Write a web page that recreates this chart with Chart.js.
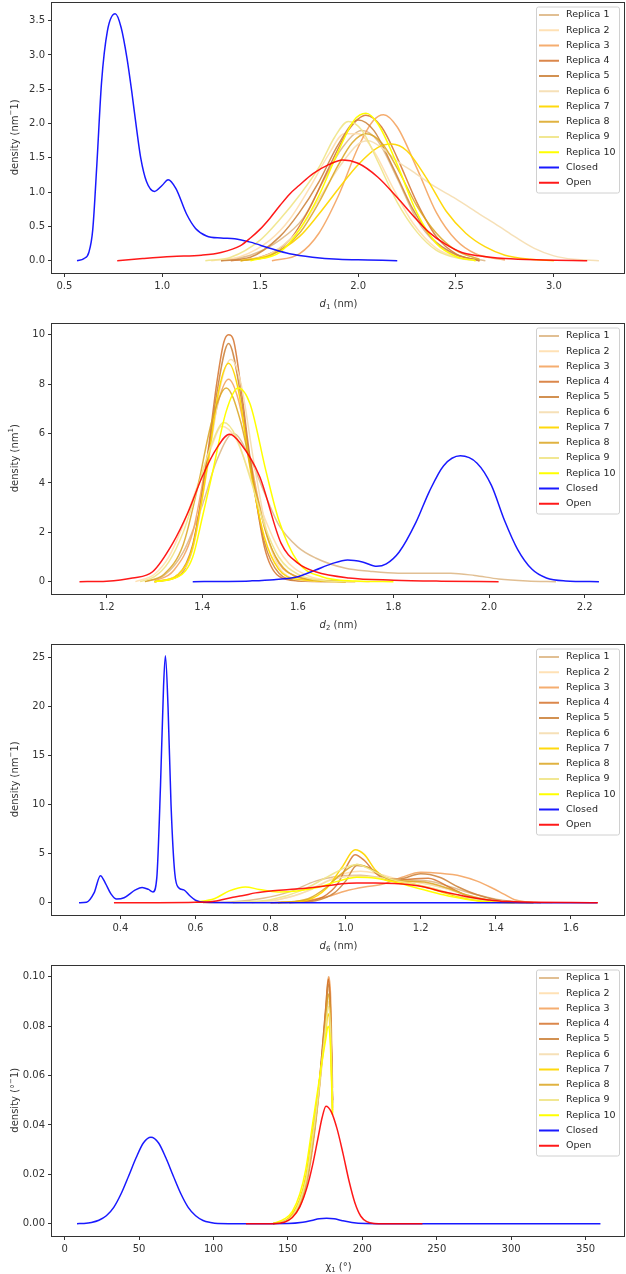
<!DOCTYPE html>
<html>
<head>
<meta charset="utf-8">
<script src="https://cdn.jsdelivr.net/npm/chart.js@4.4.1/dist/chart.umd.min.js"></script>
<style>
  body { margin: 0; background: #fff; width: 626px; height: 1274px; overflow: hidden; position: relative; }
  .panel { position: absolute; left: 0; width: 626px; height: 321px; }
</style>
</head>
<body>
<div class="panel" style="top:0px"><canvas id="d1" width="626" height="321"></canvas></div>
<div class="panel" style="top:321px"><canvas id="d2" width="626" height="321"></canvas></div>
<div class="panel" style="top:642px"><canvas id="d6" width="626" height="321"></canvas></div>
<div class="panel" style="top:963px"><canvas id="chi1" width="626" height="321"></canvas></div>
<script>
const seriesLabels = ['Replica 1', 'Replica 2', 'Replica 3', 'Replica 4', 'Replica 5',
  'Replica 6', 'Replica 7', 'Replica 8', 'Replica 9', 'Replica 10', 'Closed', 'Open'];

// ---- d1 (nm) ----
const d1R1 = [[1.3,0],[1.45,0.08],[1.6,0.3],[1.72,0.62],[1.82,1.15],[1.92,1.65],[2.02,1.9],[2.1,1.75],[2.2,1.2],[2.3,0.6],[2.4,0.25],[2.5,0.08],[2.65,0]];
const d1R2 = [[1.25,0],[1.4,0.06],[1.55,0.3],[1.65,0.6],[1.75,1.05],[1.85,1.55],[1.93,1.85],[2.0,1.85],[2.08,1.6],[2.18,1.05],[2.28,0.55],[2.4,0.18],[2.52,0.04],[2.62,0]];
const d1R3 = [[1.56,0],[1.7,0.1],[1.8,0.4],[1.9,0.95],[2.0,1.65],[2.08,2.05],[2.13,2.13],[2.2,1.95],[2.3,1.35],[2.4,0.7],[2.5,0.3],[2.6,0.1],[2.75,0.01]];
const d1R4 = [[1.35,0],[1.5,0.05],[1.65,0.3],[1.75,0.75],[1.85,1.35],[1.95,1.9],[2.04,2.12],[2.12,1.95],[2.2,1.5],[2.3,0.85],[2.4,0.35],[2.5,0.1],[2.62,0]];
const d1R5 = [[1.3,0],[1.45,0.05],[1.6,0.35],[1.7,0.7],[1.8,1.15],[1.9,1.7],[2.0,2.05],[2.08,1.9],[2.18,1.35],[2.28,0.75],[2.38,0.32],[2.5,0.09],[2.62,0]];
const d1R6 = [[1.4,0],[1.55,0.1],[1.7,0.45],[1.8,0.9],[1.9,1.35],[2.0,1.7],[2.05,1.75],[2.12,1.65],[2.2,1.45],[2.28,1.3],[2.38,1.1],[2.5,0.9],[2.62,0.68],[2.72,0.5],[2.8,0.35],[2.9,0.18],[3.0,0.07],[3.1,0.02],[3.23,0]];
const d1R7 = [[1.4,0],[1.55,0.08],[1.7,0.35],[1.8,0.68],[1.9,1.05],[2.0,1.4],[2.1,1.65],[2.17,1.7],[2.25,1.6],[2.35,1.2],[2.45,0.72],[2.55,0.4],[2.65,0.2],[2.75,0.08],[2.88,0.02],[3.0,0]];
const d1R8 = [[1.4,0],[1.55,0.07],[1.7,0.4],[1.8,0.85],[1.9,1.4],[1.97,1.72],[2.04,1.85],[2.12,1.72],[2.2,1.35],[2.3,0.8],[2.4,0.4],[2.5,0.15],[2.62,0.02]];
const d1R9 = [[1.22,0],[1.35,0.05],[1.5,0.3],[1.6,0.6],[1.7,0.95],[1.8,1.36],[1.88,1.8],[1.95,2.03],[2.02,1.9],[2.1,1.45],[2.2,0.85],[2.3,0.42],[2.4,0.15],[2.52,0.03],[2.6,0]];
const d1R10 = [[1.45,0],[1.6,0.12],[1.7,0.45],[1.8,0.95],[1.9,1.6],[1.98,2.05],[2.04,2.15],[2.1,2.0],[2.2,1.4],[2.3,0.7],[2.4,0.25],[2.5,0.06],[2.6,0]];
const d1Closed = [[0.565,0],[0.6,0.03],[0.625,0.12],[0.645,0.45],[0.666,1.4],[0.69,2.6],[0.72,3.35],[0.76,3.6],[0.79,3.4],[0.82,2.95],[0.845,2.45],[0.87,1.9],[0.89,1.5],[0.92,1.15],[0.96,1.01],[1.0,1.1],[1.03,1.18],[1.07,1.05],[1.124,0.68],[1.17,0.47],[1.226,0.36],[1.3,0.33],[1.37,0.32],[1.45,0.27],[1.55,0.18],[1.65,0.1],[1.767,0.05],[1.9,0.02],[2.05,0.01],[2.2,0]];
const d1Open = [[0.77,0],[0.9,0.03],[1.05,0.06],[1.2,0.08],[1.3,0.12],[1.4,0.22],[1.45,0.33],[1.5,0.46],[1.55,0.62],[1.6,0.8],[1.65,0.97],[1.7,1.1],[1.77,1.27],[1.85,1.4],[1.92,1.47],[2.0,1.42],[2.1,1.22],[2.2,0.92],[2.28,0.66],[2.36,0.42],[2.446,0.24],[2.53,0.12],[2.615,0.07],[2.75,0.03],[2.95,0.01],[3.17,0]];

// ---- d2 (nm) ----
const d2R1 = [[1.28,0],[1.32,0.25],[1.36,1.2],[1.4,3.1],[1.43,4.9],[1.465,6.0],[1.5,5.0],[1.53,3.6],[1.56,2.3],[1.6,1.4],[1.637,0.96],[1.7,0.54],[1.75,0.42],[1.81,0.34],[1.92,0.34],[1.97,0.25],[2.02,0.11],[2.08,0.03],[2.14,0]];
const d2R2 = [[1.26,0],[1.3,0.3],[1.33,1.0],[1.36,2.3],[1.39,3.9],[1.42,5.5],[1.44,6.3],[1.47,5.8],[1.5,4.3],[1.53,2.6],[1.57,1.0],[1.62,0.25],[1.68,0.03],[1.75,0]];
const d2R3 = [[1.3,0.02],[1.34,0.45],[1.38,2.0],[1.41,5.0],[1.435,7.4],[1.455,8.2],[1.475,7.4],[1.5,5.0],[1.53,2.2],[1.56,0.75],[1.6,0.2],[1.65,0.05],[1.72,0]];
const d2R4 = [[1.3,0],[1.35,0.22],[1.38,1.4],[1.41,5.0],[1.43,8.0],[1.445,9.7],[1.455,10.0],[1.465,9.8],[1.48,8.0],[1.5,5.0],[1.53,1.4],[1.56,0.22],[1.6,0.03],[1.7,0]];
const d2R5 = [[1.3,0],[1.35,0.3],[1.38,1.5],[1.41,4.8],[1.43,7.6],[1.455,9.65],[1.48,7.6],[1.5,4.8],[1.53,1.6],[1.56,0.35],[1.6,0.05],[1.7,0]];
const d2R6 = [[1.3,0],[1.35,0.3],[1.38,1.3],[1.41,4.5],[1.44,8.1],[1.46,9.0],[1.48,8.1],[1.51,4.6],[1.54,1.6],[1.57,0.35],[1.62,0.04],[1.7,0]];
const d2R7 = [[1.3,0],[1.35,0.3],[1.38,1.4],[1.41,4.6],[1.435,7.8],[1.455,8.85],[1.475,7.8],[1.5,4.6],[1.53,1.8],[1.56,0.5],[1.6,0.1],[1.7,0]];
const d2R8 = [[1.28,0],[1.32,0.3],[1.36,1.5],[1.39,3.8],[1.42,6.5],[1.45,7.85],[1.48,6.5],[1.51,3.8],[1.54,1.6],[1.57,0.55],[1.62,0.1],[1.7,0]];
const d2R9 = [[1.27,0],[1.3,0.2],[1.33,0.8],[1.36,2.0],[1.39,3.8],[1.42,5.6],[1.445,6.45],[1.47,5.9],[1.5,4.2],[1.53,2.3],[1.56,1.0],[1.6,0.3],[1.65,0.05],[1.72,0]];
const d2R10 = [[1.3,0],[1.35,0.2],[1.38,1.0],[1.4,2.6],[1.42,4.3],[1.45,6.9],[1.475,7.85],[1.5,7.2],[1.533,4.5],[1.56,2.5],[1.6,0.8],[1.65,0.2],[1.72,0.03],[1.8,0]];
const d2Closed = [[1.38,0],[1.45,0.01],[1.5,0.03],[1.55,0.08],[1.6,0.2],[1.637,0.47],[1.67,0.72],[1.704,0.88],[1.735,0.8],[1.765,0.62],[1.785,0.72],[1.812,1.2],[1.847,2.4],[1.875,3.65],[1.905,4.7],[1.94,5.1],[1.975,4.8],[2.005,3.9],[2.032,2.5],[2.06,1.3],[2.09,0.5],[2.12,0.15],[2.16,0.03],[2.23,0]];
const d2Open = [[1.143,0],[1.2,0.02],[1.254,0.15],[1.296,0.4],[1.338,1.55],[1.37,2.8],[1.4,4.26],[1.43,5.4],[1.457,5.97],[1.48,5.6],[1.52,4.26],[1.565,1.55],[1.6,0.75],[1.637,0.4],[1.707,0.15],[1.8,0.06],[1.9,0.02],[2.02,0]];

// ---- d6 (nm) ----
const d6R1 = [[0.62,0],[0.7,0.1],[0.78,0.45],[0.85,1.1],[0.92,2.2],[0.98,2.7],[1.04,2.8],[1.1,2.5],[1.16,2.3],[1.22,2.2],[1.28,1.6],[1.34,0.9],[1.4,0.35],[1.46,0.08],[1.52,0]];
const d6R2 = [[0.7,0],[0.8,0.2],[0.88,0.9],[0.95,2.2],[1.0,3.0],[1.04,3.2],[1.09,2.9],[1.15,2.3],[1.22,1.9],[1.28,1.3],[1.34,0.6],[1.4,0.2],[1.48,0.02],[1.55,0]];
const d6R3 = [[0.8,0],[0.88,0.15],[0.95,0.6],[1.0,1.2],[1.05,1.6],[1.1,1.9],[1.15,2.6],[1.2,3.1],[1.25,3.0],[1.308,2.7],[1.35,2.2],[1.39,1.5],[1.42,0.9],[1.45,0.3],[1.48,0.08],[1.52,0]];
const d6R4 = [[0.8,0],[0.88,0.1],[0.94,0.6],[0.98,2.0],[1.0,3.5],[1.025,4.9],[1.05,4.3],[1.08,3.0],[1.12,2.2],[1.17,2.4],[1.22,2.5],[1.28,1.5],[1.33,0.6],[1.38,0.2],[1.45,0.02],[1.5,0]];
const d6R5 = [[0.85,0],[0.92,0.2],[0.97,1.0],[1.0,2.2],[1.03,3.8],[1.06,3.6],[1.1,2.6],[1.14,2.4],[1.2,2.95],[1.25,2.6],[1.3,1.6],[1.35,0.8],[1.4,0.3],[1.46,0.05],[1.5,0]];
const d6R6 = [[0.75,0],[0.82,0.3],[0.9,1.2],[0.96,2.3],[1.02,2.7],[1.08,2.6],[1.14,2.3],[1.2,2.0],[1.26,1.5],[1.32,0.8],[1.38,0.3],[1.45,0.05],[1.5,0]];
const d6R7 = [[0.82,0],[0.9,0.3],[0.95,1.5],[0.99,3.6],[1.025,5.4],[1.05,4.9],[1.08,3.3],[1.12,2.3],[1.17,2.0],[1.22,1.5],[1.28,0.8],[1.33,0.35],[1.38,0.1],[1.45,0]];
const d6R8 = [[0.82,0],[0.9,0.4],[0.95,1.6],[0.99,3.0],[1.03,3.9],[1.07,3.4],[1.11,2.5],[1.16,2.2],[1.21,2.1],[1.27,1.5],[1.32,0.8],[1.38,0.25],[1.45,0.03],[1.5,0]];
const d6R9 = [[0.7,0],[0.8,0.3],[0.88,1.2],[0.95,2.6],[1.0,3.6],[1.03,3.9],[1.07,3.3],[1.12,2.4],[1.18,1.9],[1.24,1.4],[1.3,0.7],[1.36,0.25],[1.42,0.04],[1.48,0]];
const d6R10 = [[0.6,0.05],[0.65,0.4],[0.69,1.2],[0.733,1.6],[0.77,1.35],[0.82,1.1],[0.87,1.2],[0.93,1.6],[0.98,2.2],[1.03,2.6],[1.08,2.5],[1.14,2.0],[1.2,1.4],[1.26,0.8],[1.32,0.35],[1.38,0.1],[1.45,0]];
const d6Closed = [[0.29,0],[0.31,0.05],[0.33,1.0],[0.347,2.75],[0.36,2.0],[0.375,0.9],[0.39,0.37],[0.41,0.5],[0.44,1.3],[0.458,1.56],[0.475,1.35],[0.487,1.1],[0.497,2.5],[0.507,12],[0.515,22],[0.52,25.2],[0.527,20],[0.535,10],[0.545,3],[0.556,1.5],[0.569,1.3],[0.585,0.7],[0.6,0.25],[0.625,0.03],[0.7,0],[1.67,0]];
const d6Open = [[0.383,0],[0.5,0],[0.6,0.03],[0.65,0.15],[0.7,0.55],[0.724,0.7],[0.76,1.0],[0.8,1.2],[0.85,1.35],[0.9,1.5],[0.95,1.72],[0.99,1.94],[1.03,2.0],[1.08,2.0],[1.13,1.95],[1.17,1.83],[1.21,1.6],[1.256,1.15],[1.3,0.8],[1.344,0.48],[1.38,0.28],[1.416,0.13],[1.45,0.1],[1.5,0.05],[1.6,0.01],[1.672,0]];

// ---- chi1 (deg) ----  replicas stop at 180 deg
const chiR1 = [[140,0],[148,0.001],[153,0.003],[158,0.008],[162,0.016],[166,0.03],[170,0.05],[173,0.07],[175.5,0.088],[177.2,0.1],[178.5,0.09],[179.3,0.07],[180,0.05]];
const chiR2 = [[140,0],[148,0.001],[153,0.003],[158,0.008],[162,0.015],[166,0.029],[170,0.048],[173,0.066],[175.5,0.084],[177.2,0.095],[178.5,0.086],[179.3,0.067],[180,0.048]];
const chiR3 = [[140,0],[148,0.001],[153,0.003],[158,0.007],[162,0.014],[166,0.028],[170,0.048],[173,0.068],[176,0.09],[177.5,0.1],[178.7,0.092],[179.4,0.074],[180,0.055]];
const chiR4 = [[140,0],[148,0.001],[153,0.003],[158,0.008],[162,0.016],[166,0.03],[170,0.05],[173,0.07],[175.5,0.088],[177.2,0.099],[178.5,0.089],[179.3,0.069],[180,0.05]];
const chiR5 = [[140,0],[148,0.001],[153,0.003],[158,0.008],[162,0.016],[166,0.03],[170,0.049],[173,0.068],[175.5,0.086],[177.2,0.097],[178.5,0.088],[179.3,0.068],[180,0.049]];
const chiR6 = [[140,0],[148,0.001],[153,0.003],[158,0.008],[162,0.016],[166,0.03],[170,0.048],[173,0.065],[175.5,0.08],[177.2,0.09],[178.5,0.082],[179.3,0.064],[180,0.046]];
const chiR7 = [[140,0],[148,0.001],[153,0.004],[158,0.01],[162,0.019],[166,0.035],[170,0.052],[173,0.067],[175.5,0.078],[177,0.085],[178.5,0.077],[179.3,0.061],[180,0.045]];
const chiR8 = [[140,0],[148,0.001],[153,0.003],[158,0.008],[162,0.016],[166,0.03],[170,0.049],[173,0.067],[175.5,0.083],[177.2,0.093],[178.5,0.084],[179.3,0.066],[180,0.047]];
const chiR9 = [[140,0],[148,0.001],[153,0.003],[158,0.009],[162,0.017],[166,0.032],[170,0.05],[173,0.066],[175.5,0.08],[177.2,0.088],[178.5,0.08],[179.3,0.063],[180,0.046]];
const chiR10 = [[140,0],[148,0.002],[153,0.005],[158,0.012],[162,0.022],[166.5,0.04],[170,0.054],[173,0.066],[175.5,0.075],[177,0.08],[178.5,0.073],[179.3,0.058],[180,0.044]];
const chiClosed = [[8.3,0],[13,0.0001],[18,0.0005],[23,0.0014],[28,0.0032],[33,0.0066],[38,0.0122],[43,0.0193],[48,0.0267],[53,0.0328],[58,0.035],[63,0.0328],[68,0.0267],[73,0.0193],[78,0.0122],[83,0.0066],[88,0.0032],[93,0.0013],[98,0.0005],[103,0.0001],[120,0],[150,0.0001],[160,0.0006],[166,0.0013],[171,0.002],[176,0.0022],[181,0.002],[186,0.0013],[193,0.0005],[202,0.0001],[220,0],[360,0]];
const chiOpen = [[121.8,0],[140,0],[148,0.0007],[153,0.0025],[158,0.0068],[163,0.015],[166.5,0.0235],[170,0.034],[173,0.043],[175.6,0.0476],[179,0.0455],[183,0.0385],[187,0.0285],[191,0.0175],[195,0.0085],[199,0.003],[203,0.0008],[208,0.0001],[215,0],[240.4,0]];

// tick values
const d1XTicks = [0.5, 1.0, 1.5, 2.0, 2.5, 3.0];
const d1YTicks = [0, 0.5, 1.0, 1.5, 2.0, 2.5, 3.0, 3.5];
const d2XTicks = [1.2, 1.4, 1.6, 1.8, 2.0, 2.2];
const d2YTicks = [0, 2, 4, 6, 8, 10];
const d6XTicks = [0.4, 0.6, 0.8, 1.0, 1.2, 1.4, 1.6];
const d6YTicks = [0, 5, 10, 15, 20, 25];
const chiXTicks = [0, 50, 100, 150, 200, 250, 300, 350];
const chiYTicks = [0, 0.02, 0.04, 0.06, 0.08, 0.10];

// styles
const lineColors = [
  'rgba(222,184,135,0.9)',  // burlywood
  'rgba(255,222,173,0.9)',  // navajowhite
  'rgba(244,164,96,0.9)',   // sandybrown
  'rgba(210,105,30,0.8)',   // chocolate
  'rgba(205,133,63,0.9)',   // peru
  'rgba(245,222,179,0.95)', // wheat
  'rgba(255,215,0,0.95)',   // gold
  'rgba(218,165,32,0.85)',  // goldenrod
  'rgba(240,230,140,0.95)', // khaki
  'rgba(255,255,0,1)',      // yellow
  'rgba(0,0,255,0.9)',
  'rgba(255,0,0,0.9)'
];
const FONT = 'DejaVu Sans';
const INK = '#333';

// draw a little run of text with italic / sub / sup parts, centered on (cx, cy)
function drawParts(ctx, parts, cx, cy, size) {
  const fontOf = p => (p[1] === 'i' ? 'italic ' : '') + ((p[1] === 'sub' || p[1] === 'sup') ? size * 0.7 : size) + 'px "' + FONT + '"';
  let total = 0;
  parts.forEach(p => { ctx.font = fontOf(p); total += ctx.measureText(p[0]).width; });
  let x = cx - total / 2;
  ctx.textAlign = 'left';
  ctx.textBaseline = 'middle';
  parts.forEach(p => {
    ctx.font = fontOf(p);
    const dy = p[1] === 'sub' ? size * 0.3 : p[1] === 'sup' ? -size * 0.35 : 0;
    ctx.fillText(p[0], x, cy + dy);
    x += ctx.measureText(p[0]).width;
  });
}

const decor = {
  id: 'decor',
  afterDraw(chart, args, opts) {
    const ctx = chart.ctx;
    const a = chart.chartArea;
    ctx.save();
    // frame
    ctx.strokeStyle = INK;
    ctx.lineWidth = 1;
    ctx.strokeRect(Math.round(a.left) - 0.5, Math.round(a.top) + 0.5, Math.round(a.right - a.left), Math.round(a.bottom - a.top) - 1);
    // axis titles
    ctx.fillStyle = INK;
    drawParts(ctx, opts.xTitle, (a.left + a.right) / 2, a.bottom + 31, 10);
    ctx.save();
    ctx.translate(15, (a.top + a.bottom) / 2);
    ctx.rotate(-Math.PI / 2);
    drawParts(ctx, opts.yTitle, 0, 0, 10);
    ctx.restore();
    // legend box, matplotlib style
    const ds = chart.data.datasets;
    const rowH = 15.25;
    const w = 83, h = 12 * rowH + 3;
    const x0 = a.right - 6 - w, y0 = a.top + 5;
    ctx.fillStyle = 'rgba(255,255,255,0.8)';
    ctx.strokeStyle = '#d0d0d0';
    ctx.beginPath();
    ctx.roundRect(x0 + 0.5, y0 + 0.5, w, h, 2);
    ctx.fill();
    ctx.stroke();
    ctx.font = '9.5px "' + FONT + '"';
    ctx.textBaseline = 'middle';
    ctx.textAlign = 'left';
    ds.forEach((d, i) => {
      const y = y0 + 8.5 + i * rowH;
      ctx.strokeStyle = d.borderColor;
      ctx.lineWidth = 2;
      ctx.beginPath();
      ctx.moveTo(x0 + 3, y);
      ctx.lineTo(x0 + 23, y);
      ctx.stroke();
      ctx.fillStyle = '#262626';
      ctx.fillText(d.label, x0 + 30, y);
    });
    ctx.restore();
  }
};

function noPad(s) {
  s.paddingTop = 0; s.paddingBottom = 0; s.paddingLeft = 0; s.paddingRight = 0;
}

function drawPanel(id, series, xRange, yRange, xTicks, yTicks, xDec, yDec, xTitle, yTitle) {
  const datasets = series.map((pts, i) => ({
    label: seriesLabels[i],
    data: pts.map(p => ({ x: p[0], y: p[1] })),
    borderColor: lineColors[i],
    borderWidth: 1.5,
    pointRadius: 0,
    fill: false,
    cubicInterpolationMode: 'monotone',
    order: series.length - 1 - i
  }));
  const tickFont = { family: FONT, size: 10 };
  return new Chart(document.getElementById(id), {
    type: 'line',
    data: { datasets },
    options: {
      responsive: false,
      animation: false,
      events: [],
      layout: { padding: { top: 1.5, right: 1, left: 0, bottom: 0 } },
      plugins: {
        legend: { display: false },
        tooltip: { enabled: false },
        decor: { xTitle, yTitle }
      },
      scales: {
        x: {
          type: 'linear',
          min: xRange[0],
          max: xRange[1],
          afterBuildTicks: s => { s.ticks = xTicks.map(v => ({ value: v })); },
          afterFit: s => { s.height = 48; noPad(s); },
          ticks: { callback: v => v.toFixed(xDec), color: INK, font: tickFont, padding: 3, maxRotation: 0, autoSkip: false },
          grid: { drawOnChartArea: false, drawTicks: true, tickLength: 4, color: INK },
          border: { display: false }
        },
        y: {
          type: 'linear',
          min: yRange[0],
          max: yRange[1],
          afterBuildTicks: s => { s.ticks = yTicks.map(v => ({ value: v })); },
          afterFit: s => { s.width = 52; noPad(s); },
          ticks: { callback: v => v.toFixed(yDec), color: INK, font: tickFont, padding: 3, autoSkip: false },
          grid: { drawOnChartArea: false, drawTicks: true, tickLength: 4, color: INK },
          border: { display: false }
        }
      }
    },
    plugins: [decor]
  });
}

const nmInv = [['density (nm'], ['\u2212', 'sup'], ['1)']];

drawPanel('d1',
  [d1R1, d1R2, d1R3, d1R4, d1R5, d1R6, d1R7, d1R8, d1R9, d1R10, d1Closed, d1Open],
  [0.437, 3.363], [-0.18, 3.78], d1XTicks, d1YTicks, 1, 1,
  [['d', 'i'], ['1', 'sub'], [' (nm)']], nmInv);

drawPanel('d2',
  [d2R1, d2R2, d2R3, d2R4, d2R5, d2R6, d2R7, d2R8, d2R9, d2R10, d2Closed, d2Open],
  [1.0855, 2.2845], [-0.5, 10.5], d2XTicks, d2YTicks, 1, 0,
  [['d', 'i'], ['2', 'sub'], [' (nm)']], [['density (nm'], ['1', 'sup'], [')']]);

drawPanel('d6',
  [d6R1, d6R2, d6R3, d6R4, d6R5, d6R6, d6R7, d6R8, d6R9, d6R10, d6Closed, d6Open],
  [0.218, 1.744], [-1.26, 26.46], d6XTicks, d6YTicks, 1, 0,
  [['d', 'i'], ['6', 'sub'], [' (nm)']], nmInv);

drawPanel('chi1',
  [chiR1, chiR2, chiR3, chiR4, chiR5, chiR6, chiR7, chiR8, chiR9, chiR10, chiClosed, chiOpen],
  [-8.5, 376.5], [-0.005, 0.105], chiXTicks, chiYTicks, 0, 2,
  [['\u03c7'], ['1', 'sub'], [' (\u00b0)']], [['density (\u00b0'], ['\u2212', 'sup'], ['1)']]);
</script>
</body>
</html>
